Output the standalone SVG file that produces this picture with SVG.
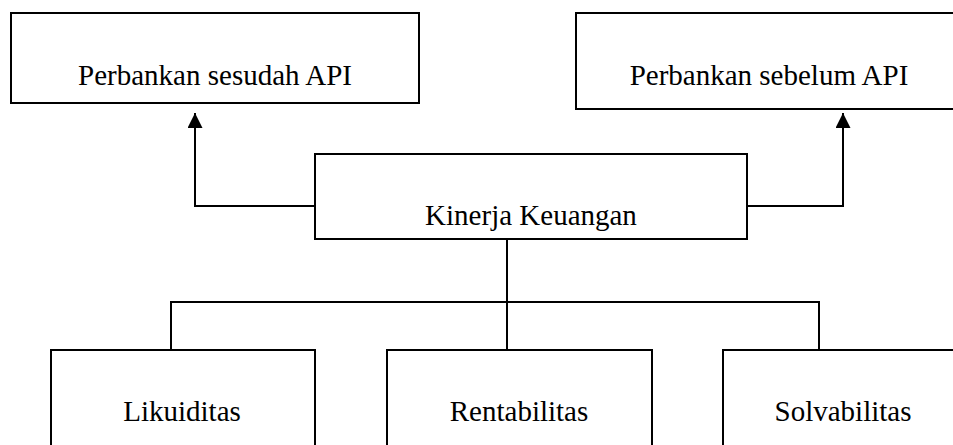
<svg xmlns="http://www.w3.org/2000/svg" width="953" height="445" viewBox="0 0 953 445">
<style>
.box{fill:#fff;stroke:#000;stroke-width:2}
.lbl{font-family:"Liberation Serif","Times New Roman",serif;font-size:29px;fill:#000;text-anchor:middle}
.con{fill:none;stroke:#000;stroke-width:2}
</style>
<defs>
<marker id="arr" viewBox="0 0 16 15" refX="15" refY="7.5" markerWidth="16" markerHeight="15" markerUnits="userSpaceOnUse" orient="auto">
<path d="M0,0 L15,7.5 L0,15 Z" fill="#000"/>
</marker>
</defs>
<g id="connectors">
<path class="con" d="M314,206 H195 V113" marker-end="url(#arr)"/>
<path class="con" d="M747,206 H843 V113" marker-end="url(#arr)"/>
<path class="con" d="M507,239 V349"/>
<path class="con" d="M171,349 V302 H819 V349"/>
</g>
<g id="n-sesudah">
<rect class="box" x="11" y="13" width="408" height="90"/>
<text class="lbl" x="215" y="85">Perbankan sesudah API</text>
</g>
<g id="n-sebelum">
<rect class="box" x="576" y="13" width="390" height="96"/>
<text class="lbl" x="769" y="85">Perbankan sebelum API</text>
</g>
<g id="n-kinerja">
<rect class="box" x="315" y="154" width="432" height="85"/>
<text class="lbl" x="531" y="225">Kinerja Keuangan</text>
</g>
<g id="n-likuiditas">
<rect class="box" x="51" y="350" width="264" height="110"/>
<text class="lbl" x="182" y="421">Likuiditas</text>
</g>
<g id="n-rentabilitas">
<rect class="box" x="387" y="350" width="265" height="110"/>
<text class="lbl" x="519" y="421">Rentabilitas</text>
</g>
<g id="n-solvabilitas">
<rect class="box" x="723" y="350" width="260" height="110"/>
<text class="lbl" x="843" y="421">Solvabilitas</text>
</g>
</svg>
